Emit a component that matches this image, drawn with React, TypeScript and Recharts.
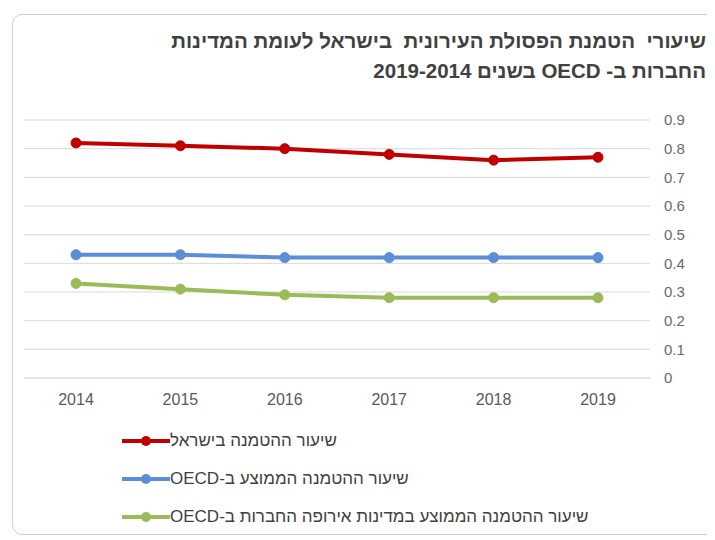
import React from 'react';
import { LineChart, Line, XAxis, YAxis, CartesianGrid } from 'recharts';

// נתונים מהגרף
const years = ['2014', '2015', '2016', '2017', '2018', '2019'];
const israel = [0.82, 0.81, 0.8, 0.78, 0.76, 0.77];
const oecd = [0.43, 0.43, 0.42, 0.42, 0.42, 0.42];
const oecdEurope = [0.33, 0.31, 0.29, 0.28, 0.28, 0.28];
const yTicks = [0, 0.1, 0.2, 0.3, 0.4, 0.5, 0.6, 0.7, 0.8, 0.9];

const titleLines = [
  'שיעורי  הטמנת הפסולת העירונית  בישראל לעומת המדינות',
  'החברות ב- OECD בשנים 2019-2014',
];

const series = [
  { key: 'israel', name: 'שיעור ההטמנה בישראל', color: '#C00000' },
  { key: 'oecd', name: 'שיעור ההטמנה הממוצע ב-OECD', color: '#5B8ED6' },
  { key: 'oecdEurope', name: 'שיעור ההטמנה הממוצע במדינות אירופה החברות ב-OECD', color: '#9BBB59' },
];

const data = years.map((year, i) => ({
  year,
  israel: israel[i],
  oecd: oecd[i],
  oecdEurope: oecdEurope[i],
}));

const font = '"Liberation Sans", Arial, sans-serif';

export default function App() {
  return (
    <div style={{ position: 'relative', width: 707, height: 532, overflow: 'hidden', fontFamily: font }}>
      {/* מסגרת */}
      <div
        style={{
          position: 'absolute',
          left: 4,
          top: 6,
          width: 740,
          height: 521,
          border: '1px solid #d0d0d0',
          borderRadius: 10,
          boxSizing: 'border-box',
          background: '#fff',
        }}
      />
      {/* כותרת */}
      <div
        style={{
          position: 'absolute',
          right: 9,
          top: 18,
          direction: 'rtl',
          textAlign: 'right',
          fontSize: 20.5,
          lineHeight: '30px',
          color: '#404040',
          fontWeight: 'bold',
          whiteSpace: 'pre',
        }}
      >
        {titleLines.map((l) => (
          <div key={l}>{l}</div>
        ))}
      </div>

      <div style={{ position: 'absolute', left: 0, top: 0 }}>
        <LineChart width={700} height={410} data={data} margin={{ top: 112, left: 16, right: 8, bottom: 0 }}>
          <CartesianGrid vertical={false} stroke="#d9d9d9" />
          <XAxis
            dataKey="year"
            padding={{ left: 52, right: 52 }}
            axisLine={{ stroke: '#d9d9d9' }}
            tickLine={false}
            tickSize={0}
            tickMargin={16}
            height={40}
            tick={{ fill: '#595959', fontSize: 16, fontFamily: font }}
          />
          <YAxis
            orientation="right"
            domain={[0, 0.9]}
            ticks={yTicks}
            axisLine={false}
            tickLine={false}
            tickSize={0}
            tickMargin={14}
            width={50}
            tick={{ fill: '#6a6a6a', fontSize: 15, fontFamily: font }}
          />
          {series.map((s) => (
            <Line
              key={s.key}
              dataKey={s.key}
              name={s.name}
              stroke={s.color}
              strokeWidth={4}
              dot={{ r: 5, fill: s.color, stroke: s.color, strokeWidth: 1 }}
              isAnimationActive={false}
            />
          ))}
        </LineChart>
      </div>

      {/* מקרא */}
      <div style={{ position: 'absolute', left: 114, top: 414 }}>
        {series.map((s) => (
          <div key={s.key} style={{ display: 'flex', alignItems: 'center', height: 38 }}>
            <svg width={48} height={14} style={{ flex: 'none' }}>
              <line x1={0} y1={7} x2={48} y2={7} stroke={s.color} strokeWidth={4} />
              <circle cx={24} cy={7} r={5} fill={s.color} />
            </svg>
            <span
              style={{
                direction: 'rtl',
                unicodeBidi: 'embed',
                fontSize: 17,
                color: '#404040',
                whiteSpace: 'nowrap',
              }}
            >
              {s.name}
            </span>
          </div>
        ))}
      </div>
    </div>
  );
}
